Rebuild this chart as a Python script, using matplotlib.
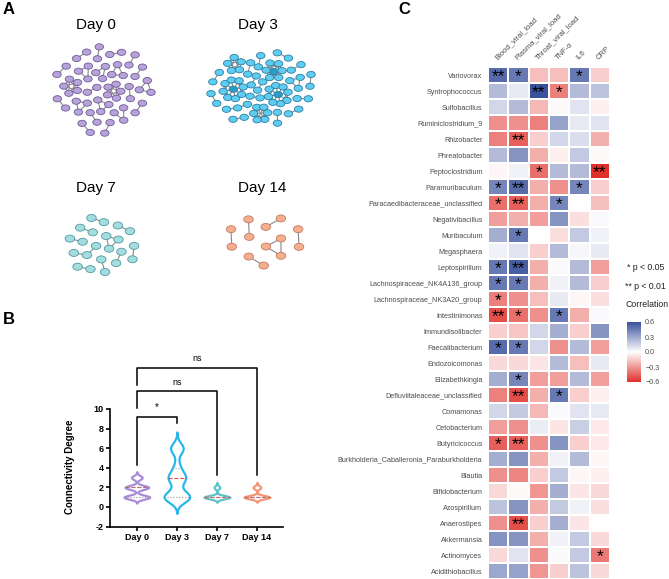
import numpy as np
import matplotlib
matplotlib.use("Agg")
import matplotlib.pyplot as plt
from matplotlib.patches import Ellipse
from matplotlib.colors import LinearSegmentedColormap, Normalize
from matplotlib.cm import ScalarMappable

# ---------------- data ----------------
# panel A: network components per day (kind, number of nodes)
day0_components = [("clique", 5), ("clique", 5), ("clique", 3), ("clique", 3), ("clique", 3),
                   ("clique", 3), ("clique", 3), ("path", 3), ("path", 3)] + [("path", 2)] * 13
day3_components = [("hub", 9), ("hub", 9), ("hub", 7), ("clique", 6), ("clique", 5),
                   ("clique", 3), ("path", 3)] + [("path", 2)] * 14
day7_components = [("clique", 3), ("path", 3)] + [("path", 2)] * 8
day14_components = [("clique", 3)] + [("path", 2)] * 5

# panel B: node degree counts per day {degree: number of nodes}
days = ["Day 0", "Day 3", "Day 7", "Day 14"]
day0_degrees = {1: 24, 2: 22, 3: 10}
day3_degrees = {1: 22, 2: 4, 3: 14, 4: 5, 5: 1, 6: 11}
day7_degrees = {1: 18, 2: 4}
day14_degrees = {1: 10, 2: 3}

# panel C: spearman correlations
genera = ["Variovorax", "Syntrophococcus", "Sulfobacillus", "Ruminiclostridium_9", "Rhizobacter",
          "Phreatobacter", "Peptoclostridium", "Paramuribaculum", "Paracaedibacteraceae_unclassified",
          "Negativibacillus", "Muribaculum", "Megasphaera", "Leptospirillum",
          "Lachnospiraceae_NK4A136_group", "Lachnospiraceae_NK3A20_group", "Intestinimonas",
          "Immundisolibacter", "Faecalibacterium", "Endozoicomonas", "Elizabethkingia",
          "Defluviitaleaceae_unclassified", "Comamonas", "Cetobacterium", "Butyricicoccus",
          "Burkholderia_Caballeronia_Paraburkholderia", "Blautia", "Bifidobacterium", "Azospirillum",
          "Anaerostipes", "Akkermansia", "Actinomyces", "Acidithiobacillus"]
clinical = ["Blood_viral_load", "Plasma_viral_load", "Throat_viral_load", "TNF-\u03b1", "IL6", "CRP"]

blood_viral_load = [0.55, 0.25, 0.15, -0.35, -0.4, 0.25, -0.03, 0.45, -0.45, -0.3, 0.3, 0.05, 0.5, 0.5,
                    -0.4, -0.55, -0.15, 0.55, -0.12, 0.3, -0.4, 0.15, -0.3, -0.5, 0.3, -0.35, -0.12,
                    0.22, -0.35, 0.4, -0.12, 0.33]
plasma_viral_load = [0.5, 0.08, 0.25, -0.35, -0.5, 0.4, 0.05, 0.55, -0.5, -0.25, 0.5, 0.1, 0.6, 0.5,
                     -0.35, -0.45, -0.18, 0.5, -0.12, 0.45, -0.55, 0.2, -0.35, -0.5, 0.4, -0.38, -0.02,
                     0.4, -0.55, 0.4, 0.1, 0.35]
throat_viral_load = [-0.2, 0.65, -0.22, -0.4, -0.15, -0.25, -0.45, -0.25, -0.25, -0.3, 0.0, -0.15, -0.25,
                     -0.25, -0.2, -0.35, 0.15, 0.15, -0.08, -0.3, -0.25, -0.22, 0.07, -0.35, -0.25, -0.15,
                     -0.33, -0.25, -0.15, -0.25, -0.35, -0.33]
tnf_alpha = [-0.2, -0.4, -0.02, 0.35, 0.15, -0.05, 0.25, -0.35, 0.45, 0.4, -0.1, 0.25, 0.02, 0.05, 0.08,
             0.5, 0.3, -0.35, 0.25, -0.3, 0.5, 0.02, -0.08, 0.4, 0.05, 0.2, 0.3, 0.2, 0.3, 0.05, 0.02, -0.15]
il6 = [0.5, 0.25, 0.1, 0.08, 0.12, 0.2, 0.25, 0.45, 0.0, -0.1, 0.2, 0.03, 0.25, 0.25, -0.03, -0.25,
       -0.15, 0.25, -0.2, 0.25, -0.15, 0.1, 0.18, -0.15, 0.25, -0.03, -0.08, 0.05, -0.08, 0.2, 0.2, 0.22]
crp = [-0.15, 0.22, -0.05, 0.1, -0.25, -0.02, -0.7, -0.15, -0.2, 0.02, 0.05, 0.08, -0.3, -0.15, -0.1,
       0.02, 0.4, -0.3, 0.08, -0.3, -0.05, 0.08, -0.07, -0.07, -0.03, -0.05, -0.12, -0.1, 0.0, -0.12,
       -0.42, -0.12]

significance = [
    ("Variovorax", "Blood_viral_load", "**"), ("Variovorax", "Plasma_viral_load", "*"),
    ("Variovorax", "IL6", "*"),
    ("Syntrophococcus", "Throat_viral_load", "**"), ("Syntrophococcus", "TNF-\u03b1", "*"),
    ("Rhizobacter", "Plasma_viral_load", "**"),
    ("Peptoclostridium", "Throat_viral_load", "*"), ("Peptoclostridium", "CRP", "**"),
    ("Paramuribaculum", "Blood_viral_load", "*"), ("Paramuribaculum", "Plasma_viral_load", "**"),
    ("Paramuribaculum", "IL6", "*"),
    ("Paracaedibacteraceae_unclassified", "Blood_viral_load", "*"),
    ("Paracaedibacteraceae_unclassified", "Plasma_viral_load", "**"),
    ("Paracaedibacteraceae_unclassified", "TNF-\u03b1", "*"),
    ("Muribaculum", "Plasma_viral_load", "*"),
    ("Leptospirillum", "Blood_viral_load", "*"), ("Leptospirillum", "Plasma_viral_load", "**"),
    ("Lachnospiraceae_NK4A136_group", "Blood_viral_load", "*"),
    ("Lachnospiraceae_NK4A136_group", "Plasma_viral_load", "*"),
    ("Lachnospiraceae_NK3A20_group", "Blood_viral_load", "*"),
    ("Intestinimonas", "Blood_viral_load", "**"), ("Intestinimonas", "Plasma_viral_load", "*"),
    ("Intestinimonas", "TNF-\u03b1", "*"),
    ("Faecalibacterium", "Blood_viral_load", "*"), ("Faecalibacterium", "Plasma_viral_load", "*"),
    ("Elizabethkingia", "Plasma_viral_load", "*"),
    ("Defluviitaleaceae_unclassified", "Plasma_viral_load", "**"),
    ("Defluviitaleaceae_unclassified", "TNF-\u03b1", "*"),
    ("Butyricicoccus", "Blood_viral_load", "*"), ("Butyricicoccus", "Plasma_viral_load", "**"),
    ("Anaerostipes", "Plasma_viral_load", "**"),
    ("Actinomyces", "CRP", "*"),
]

# ---------------- figure ----------------
W, H = 669, 579
fig = plt.figure(figsize=(W / 100, H / 100), dpi=100)
plt.rcParams["font.family"] = ["Liberation Sans", "DejaVu Sans"]


def px_axes(x0, y0, x1, y1):
    return fig.add_axes([x0 / W, 1 - y1 / H, (x1 - x0) / W, (y1 - y0) / H])


def component_shape(kind, n, rot):
    # node offsets (edge length ~1) and edges of one connected component
    if kind == "path":
        offs = np.arange(n) - (n - 1) / 2
        pts = np.c_[offs * np.cos(rot), offs * np.sin(rot)]
        return pts, [(j, j + 1) for j in range(n - 1)], []
    if kind == "clique":
        r = 1 / (2 * np.sin(np.pi / n))
        a = rot + np.arange(n) * 2 * np.pi / n
        pts = np.c_[r * np.cos(a), r * np.sin(a)]
        return pts, [(i, j) for i in range(n) for j in range(i + 1, n)], []
    m = n - 1
    a = rot + np.arange(m) * 2 * np.pi / m
    pts = np.vstack([[0, 0], np.c_[np.cos(a), np.sin(a)]])
    edges = [(0, i) for i in range(1, n)]
    edges += [(1 + i, 1 + (i + 1) % m) for i in range(m)]
    edges += [(1 + i, 1 + (i + 2) % m) for i in range(m)]
    return pts, edges, [0]


def build_graph(comps):
    sizes = [n for _, n in comps]
    order = sorted(range(len(comps)), key=lambda i: -sizes[i])
    areas = np.array([sizes[i] + 1.5 for i in order], dtype=float)
    frac = np.sqrt((np.cumsum(areas) - areas / 2) / areas.sum())
    R = 1.2 * np.sqrt(sum(sizes))
    pos, edges, hubs = [], [], []
    for k, i in enumerate(order):
        th = k * 2.39996 + 0.6
        kind, n = comps[i]
        pts, e, h = component_shape(kind, n, k * 1.9 + 0.4)
        base = len(pos)
        pos.extend(pts + [frac[k] * R * np.cos(th), frac[k] * R * np.sin(th)])
        edges.extend([(a + base, b + base) for a, b in e])
        hubs.extend([j + base for j in h])
    return np.array(pos), np.array(edges), hubs


def relax_layout(pos, edges, gx, gy, cutoff=1.3, rest=1.0, iters=700):
    # spring layout: short-range repulsion, springs on edges, elliptical gravity
    pos = pos.copy()
    g = np.array([gx, gy])
    for it in range(iters):
        delta = pos[:, None, :] - pos[None, :, :]
        d2 = (delta ** 2).sum(-1) + 1e-6
        np.fill_diagonal(d2, np.inf)
        w = np.where(d2 < cutoff ** 2, 1 / d2 - 1 / cutoff ** 2, 0.0)
        disp = (delta * w[..., None]).sum(1)
        dv = pos[edges[:, 0]] - pos[edges[:, 1]]
        f = dv * (np.linalg.norm(dv, axis=1)[:, None] - rest) * 3.0
        np.add.at(disp, edges[:, 0], -f)
        np.add.at(disp, edges[:, 1], f)
        disp -= g * (pos - pos.mean(0))
        t = 0.2 * (1 - it / iters) + 0.004
        ln = np.linalg.norm(disp, axis=1)[:, None] + 1e-9
        pos += disp / ln * np.minimum(ln, t)
    return pos


def draw_network(comps, cx, cy, rx, ry, node_w, node_h, fill, edge_col, hub_fill):
    pad = 12
    ax = px_axes(cx - rx - pad, cy - ry - pad, cx + rx + pad, cy + ry + pad)
    ax.set_xlim(cx - rx - pad, cx + rx + pad)
    ax.set_ylim(cy + ry + pad, cy - ry - pad)
    ax.axis("off")
    pos, edges, hubs = build_graph(comps)
    pos = relax_layout(pos, edges, 0.1, 0.1 * (rx / ry) ** 2)
    pos -= (pos.max(0) + pos.min(0)) / 2
    s = min(rx / np.abs(pos[:, 0]).max(), ry / np.abs(pos[:, 1]).max())
    pos = pos * s + [cx, cy]
    for a, b in edges:
        ax.plot(pos[[a, b], 0], pos[[a, b], 1], color="#8a8a8a", lw=0.8, zorder=1)
    for j, (x, y) in enumerate(pos):
        fc = hub_fill if j in hubs else fill
        ax.add_patch(Ellipse((x, y), node_w, node_h, facecolor=fc, edgecolor=edge_col, lw=0.6, zorder=2))


draw_network(day0_components, 104, 90, 47, 44, 8.5, 6.2, "#b7a2da", "#6f5b98", "#b7a2da")
draw_network(day3_components, 261, 88, 50, 36, 8.5, 6.2, "#5fcdf2", "#2b7fa2", "#2a9cc8")
draw_network(day7_components, 102, 245, 33, 27, 9.5, 7, "#a4dcdf", "#4e9aa0", "#a4dcdf")
draw_network(day14_components, 265, 242, 34, 24, 9.5, 7, "#f7ae8f", "#c27b5f", "#f7ae8f")

for title, tx, ty in [("Day 0", 96, 25), ("Day 3", 258, 25), ("Day 7", 96, 188), ("Day 14", 262, 188)]:
    fig.text(tx / W, 1 - ty / H, title, ha="center", va="center", fontsize=11)

for lbl, lx, ly in [("A", 9, 10), ("B", 9, 320), ("C", 404, 9)]:
    fig.text(lx / W, 1 - ly / H, lbl, ha="center", va="center", fontsize=12, fontweight="bold")

# ---------------- panel B: violins ----------------
axb = px_axes(110, 355, 283, 526.6)
violin_colors = ["#a88bd9", "#29b6ea", "#5ec4c9", "#f39473"]
bandwidths = [0.2, 0.55, 0.17, 0.17]
degree_sets = [day0_degrees, day3_degrees, day7_degrees, day14_degrees]
for pos, (deg, bw, col) in enumerate(zip(degree_sets, bandwidths, violin_colors), start=1):
    vals = np.repeat(list(deg.keys()), list(deg.values()))
    y = np.linspace(vals.min() - 3 * bw, vals.max() + 3 * bw, 400)
    dens = np.zeros_like(y)
    for k, c in deg.items():
        dens += c * np.exp(-0.5 * ((y - k) / bw) ** 2)
    half = 0.32 * dens / dens.max()
    axb.fill_betweenx(y, pos - half, pos + half, facecolor="white", edgecolor=col, lw=1.6, zorder=2)
    q1, med, q3 = np.percentile(vals, [25, 50, 75])
    for q, c, ls in [(q1, "#999999", ":"), (med, "#d9534f", "--"), (q3, "#999999", ":")]:
        w = np.interp(q, y, half)
        axb.plot([pos - w, pos + w], [q, q], color=c, lw=0.8, ls=ls, zorder=3)

axb.set_xlim(0.33, 4.65)
axb.set_ylim(-2, 15.5)
axb.set_xticks([1, 2, 3, 4])
axb.set_xticklabels(days, fontsize=6.5, fontweight="bold")
axb.set_yticks([-2, 0, 2, 4, 6, 8, 10])
axb.set_yticklabels([str(v) for v in [-2, 0, 2, 4, 6, 8, 10]], fontsize=6.5, fontweight="bold")
axb.spines["left"].set_bounds(-2, 10)
axb.spines["top"].set_visible(False)
axb.spines["right"].set_visible(False)
for s in ["left", "bottom"]:
    axb.spines[s].set_linewidth(1.2)
axb.tick_params(width=1.2, length=3, pad=1.5)
axb.set_ylabel("Connectivity Degree", fontsize=7, fontweight="bold", labelpad=2)
axb.yaxis.set_label_coords(-0.2, 0.35)

brackets = [(1, 2, 4.3, 8.6, 9.2, "*"), (1, 3, 10.1, 3.3, 11.8, "ns"), (1, 4, 12.4, 3.3, 14.2, "ns")]
for x1, x2, y1, y2, top, txt in brackets:
    axb.plot([x1, x1, x2, x2], [y1, top, top, y2], color="black", lw=1.1, clip_on=False)
    axb.text((x1 + x2) / 2, top + 0.45, txt, ha="center", va="bottom", fontsize=7 if txt == "*" else 6.5,
             clip_on=False)

# ---------------- panel C: heatmap ----------------
axc = px_axes(488, 67, 610, 579)
corr = np.array([blood_viral_load, plasma_viral_load, throat_viral_load, tnf_alpha, il6, crp]).T
cmap = LinearSegmentedColormap.from_list("rwb", ["#e0302a", "#ffffff", "#3a519b"])
norm = Normalize(vmin=-0.65, vmax=0.65)
axc.pcolormesh(np.arange(len(clinical) + 1), np.arange(len(genera) + 1), corr, cmap=cmap, norm=norm,
               edgecolors="white", linewidth=1.3)
axc.set_xlim(0, len(clinical))
axc.set_ylim(len(genera), 0)
for s in axc.spines.values():
    s.set_visible(False)
axc.set_yticks(np.arange(len(genera)) + 0.5)
axc.set_yticklabels(genera, fontsize=5.2, color="#4d4d4d")
axc.xaxis.tick_top()
axc.set_xticks(np.arange(len(clinical)) + 0.5)
axc.set_xticklabels(clinical, fontsize=5.5, color="#4d4d4d", rotation=45, ha="left",
                    rotation_mode="anchor")
axc.tick_params(length=0, pad=4)
for g, c, mark in significance:
    axc.text(clinical.index(c) + 0.5, genera.index(g) + 0.6, mark, ha="center", va="center",
             fontsize=12.5, color="black")

# legend
fig.text(627 / W, 1 - 267 / H, "* p < 0.05", ha="left", va="center", fontsize=6.3, color="#222222")
fig.text(625 / W, 1 - 286 / H, "** p < 0.01", ha="left", va="center", fontsize=6.3, color="#222222")
fig.text(625 / W, 1 - 304 / H, "Correlation", ha="left", va="center", fontsize=6.3, color="#222222")
cax = px_axes(627, 322, 641, 382)
cb = fig.colorbar(ScalarMappable(norm=Normalize(-0.6, 0.6), cmap=cmap), cax=cax,
                  ticks=[-0.6, -0.3, 0.0, 0.3, 0.6])
cb.outline.set_visible(False)
cb.ax.set_yticklabels(["\u22120.6", "\u22120.3", "0.0", "0.3", "0.6"], fontsize=5.2, color="#4d4d4d")
cb.ax.tick_params(length=0, pad=3)

fig.savefig("out.png", dpi=100)
